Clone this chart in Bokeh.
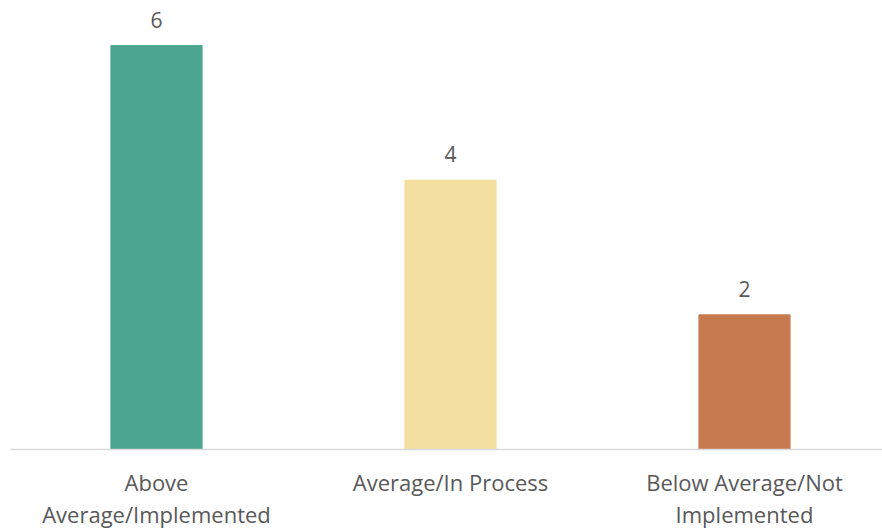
from bokeh.plotting import figure
from bokeh.models import Range1d, FixedTicker, ColumnDataSource
from bokeh.core.properties import value
from bokeh.embed import file_html
from bokeh.resources import INLINE

categories = ["Above Average/Implemented", "Average/In Process", "Below Average/Not Implemented"]
tick_labels = ["Above\nAverage/Implemented", "Average/In Process", "Below Average/Not\nImplemented"]
counts = [6, 4, 2]
colors = ["#4CA58E", "#F3DFA0", "#C77A50"]

xpos = [i + 1 for i in range(len(categories))]

src = ColumnDataSource(dict(x=xpos, cat=categories, top=counts, color=colors,
                            label=[str(v) for v in counts]))

p = figure(width=882, height=531, output_backend="svg", toolbar_location=None,
           x_range=Range1d(0.5034, 3.4694), y_range=Range1d(0, 6.67),
           min_border_left=10, min_border_right=0, min_border_top=0, min_border_bottom=0)

p.vbar(x="x", top="top", bottom=0, width=0.31, color="color", source=src)

p.text(x="x", y="top", text="label", source=src, text_align="center",
       text_baseline="alphabetic", y_offset=-26, text_font=value("Open Sans"),
       text_font_size="21px", text_color="#595959")

p.yaxis.visible = False
p.xgrid.visible = False
p.ygrid.visible = False
p.outline_line_color = None

ax = p.xaxis[0]
ax.ticker = FixedTicker(ticks=xpos)
ax.major_label_overrides = {x: lab for x, lab in zip(xpos, tick_labels)}
ax.axis_line_color = "#D9D9D9"
ax.axis_line_width = 1.5
ax.major_tick_line_color = None
ax.minor_tick_line_color = None
ax.major_label_text_font = "Open Sans"
ax.major_label_text_font_size = "22px"
ax.major_label_text_color = "#595959"
ax.major_label_text_line_height = 1.07
ax.major_label_standoff = 11

open("out.html", "w").write(file_html(p, INLINE))
